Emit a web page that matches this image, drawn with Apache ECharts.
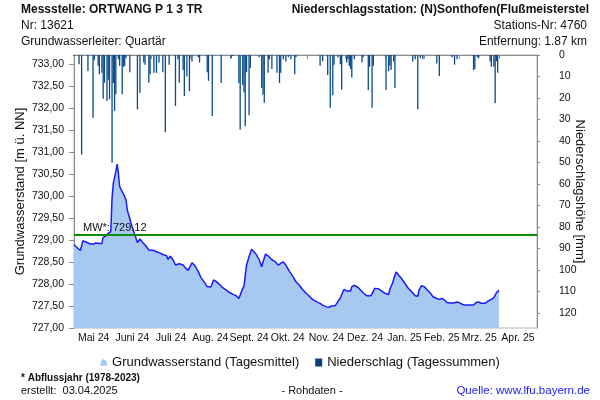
<!DOCTYPE html>
<html><head><meta charset="utf-8">
<script src="https://cdn.jsdelivr.net/npm/echarts@6/dist/echarts.min.js"></script>
<style>html,body{margin:0;padding:0;background:#fff}#c{width:600px;height:400px}</style>
</head><body><div id="c"></div>
<script>
// ---- data ----
const monthLabels = ["Mai 24","Juni 24","Juli 24","Aug. 24","Sept. 24","Okt. 24","Nov. 24","Dez. 24","Jan. 25","Feb. 25","Mrz. 25","Apr. 25"];
const monthStarts = [0,31,61,92,123,153,184,214,245,276,304,335,365]; // days since 2024-05-01
const levelTicks = [727,727.5,728,728.5,729,729.5,730,730.5,731,731.5,732,732.5,733];
const rainTicks = [0,10,20,30,40,50,60,70,80,90,100,110,120];
const meanLevel = 729.12;

const levelDays = [0,3,5,7,9,12,15,17,20,22,23,25,27,29,30,31,33,34,35,36,38,40,41,42,45,48,50,52,54,57,59,63,65,68,70,73,74,76,78,80,83,86,88,90,93,95,98,100,103,105,108,110,112,115,117,120,123,125,128,130,131,133,134,136,138,140,141,143,146,148,149,151,153,156,158,161,163,165,167,170,173,175,178,180,183,186,188,191,194,196,199,201,203,206,208,210,212,213,215,218,219,221,224,227,229,231,234,236,237,240,242,245,248,249,251,253,254,256,258,261,263,266,269,271,272,274,276,278,281,283,286,288,290,292,294,296,299,302,304,306,308,312,315,317,319,321,324,327,329,331,333,335];
const levelValues = [728.89,728.81,728.76,728.98,728.96,728.92,728.90,728.93,728.92,728.92,729.06,729.09,729.15,729.19,729.95,730.29,730.55,730.72,730.51,730.21,730.10,729.98,729.91,729.68,729.38,729.11,728.94,729.02,728.95,728.85,728.77,728.76,728.73,728.70,728.67,728.64,728.56,728.63,728.55,728.43,728.46,728.43,728.36,728.31,728.48,728.43,728.28,728.15,728.03,727.94,727.93,728.09,728.06,727.98,727.92,727.86,727.80,727.77,727.73,727.67,727.69,727.90,727.95,728.43,728.62,728.79,728.81,728.70,728.55,728.39,728.50,728.68,728.64,728.55,728.52,728.43,728.47,728.50,728.43,728.28,728.15,728.05,727.96,727.88,727.79,727.71,727.65,727.60,727.56,727.52,727.48,727.47,727.50,727.51,727.60,727.68,727.83,727.88,727.84,727.84,727.94,727.97,727.92,727.83,727.77,727.73,727.73,727.83,727.90,727.89,727.85,727.79,727.76,727.88,728.01,728.20,728.27,728.20,728.13,728.01,727.92,727.83,727.73,727.72,727.86,727.96,727.94,727.88,727.79,727.71,727.67,727.65,727.67,727.64,727.58,727.57,727.57,727.59,727.57,727.54,727.52,727.52,727.52,727.58,727.59,727.56,727.56,727.62,727.65,727.69,727.80,727.86];

const rainDays = [0,4,6,11,15,16,19,20,22,23,24,26,27,28,30,31,32,33,35,36,38,39,40,41,44,50,52,55,56,59,60,63,65,67,70,72,75,80,82,83,86,87,89,91,93,98,99,105,106,109,116,124,125,130,131,133,134,135,136,138,139,146,148,149,150,153,154,156,160,162,163,165,167,169,171,174,175,194,196,200,202,204,205,208,210,211,215,216,217,218,219,221,227,228,232,233,235,236,246,248,249,250,252,253,267,269,271,273,275,286,288,298,300,302,315,316,318,319,328,329,331,332,333,334];
const rainValues = [0.5,4.3,46.3,7.4,29.2,2.5,5,9,8.3,20.3,12.9,21.4,11.5,20.6,50.1,13,26,18.3,2,5,18.3,5.5,5,1.5,8,25.3,17.6,3.5,4.5,12.9,9,8.3,8.3,3.5,8,35.9,4.5,23.7,2,12.9,7,19.1,10,16.8,3,1,3.5,8,12,28.4,13,1.5,0.5,13,34.6,14,17.3,33.2,8,28,6,1,15.4,18.4,22.2,8.3,2,6.5,8.3,13,8.3,2,3,1,2,9,1,5,3,9.3,24.5,18.7,4.5,1,4.3,16,3.5,2,5,6.5,10.5,2,3.5,1,16.3,5.5,24.5,5,16.3,7.5,5,7,3,15.3,3,2,25.2,1.5,2,4,9.8,1,4.5,2,7,6.5,1,1.5,3,5.5,5.5,22.4,3,8.3];

// ---- chart ----
const FONT = '"Liberation Sans", Arial, sans-serif';
const monthMids = monthStarts.slice(0, -1).map((s, i) => (s + monthStarts[i + 1]) / 2);
const chart = echarts.init(document.getElementById('c'), null, {renderer: 'canvas'});

const txt = (x, y, text, opts) => ({
  type: 'text', x: x, y: y,
  style: Object.assign({text: text, fontFamily: FONT, fontSize: 12, fill: '#111', align: 'left', verticalAlign: 'middle'}, opts || {})
});

chart.setOption({
  animation: false,
  textStyle: {fontFamily: FONT},
  grid: {left: 74, right: 63, top: 55, bottom: 72, show: true, borderColor: '#b4b4b4', borderWidth: 1,
         containLabel: false, outerBoundsMode: 'none'},
  xAxis: {
    type: 'value', min: 0, max: 365,
    splitLine: {show: false},
    axisLine: {show: true, lineStyle: {color: '#8c8c8c'}},
    axisTick: {show: true, length: 4, customValues: monthStarts, lineStyle: {color: '#8c8c8c'}},
    axisLabel: {
      customValues: monthMids, margin: 5, fontSize: 10.5, color: '#111', hideOverlap: false,
      formatter: v => { const i = monthMids.findIndex(m => Math.abs(m - v) < 0.01); return i >= 0 ? monthLabels[i] : ''; }
    }
  },
  yAxis: [{
    type: 'value', min: 727, max: 733.2, position: 'left',
    name: 'Grundwasserstand [m ü. NN]', nameLocation: 'middle', nameGap: 47, nameMoveOverlap: false,
    nameTextStyle: {fontSize: 13, color: '#111'},
    splitLine: {show: false},
    axisLine: {show: true, lineStyle: {color: '#8c8c8c'}},
    axisTick: {show: true, length: 5, customValues: levelTicks, lineStyle: {color: '#8c8c8c'}},
    axisLabel: {customValues: levelTicks, margin: 10, fontSize: 10.5, color: '#111', formatter: v => v.toFixed(2).replace('.', ',')}
  }, {
    type: 'value', min: 0, max: 127, inverse: true, position: 'right',
    name: 'Niederschlagshöhe [mm]', nameLocation: 'middle', nameGap: 36, nameRotate: -90, nameMoveOverlap: false,
    nameTextStyle: {fontSize: 13, color: '#111'},
    splitLine: {show: false},
    axisLine: {show: true, lineStyle: {color: '#8c8c8c'}},
    axisTick: {show: true, length: 3, customValues: rainTicks, lineStyle: {color: '#8c8c8c'}},
    axisLabel: {customValues: rainTicks, margin: 22, fontSize: 10.5, color: '#111', align: 'left'}
  }],
  legend: {
    left: 'center', top: 351, itemWidth: 7, itemHeight: 8, itemGap: 16,
    textStyle: {fontSize: 13, color: '#111', fontFamily: FONT},
    data: [
      {name: 'Grundwasserstand (Tagesmittel)', icon: 'path://M0,10 L1,4 Q5,-2 9,4 L10,10 Z', itemStyle: {color: '#a7c8f0'}},
      {name: 'Niederschlag (Tagessummen)', icon: 'rect', itemStyle: {color: '#0a4078'}}
    ]
  },
  series: [{
    name: 'Grundwasserstand (Tagesmittel)', type: 'line', yAxisIndex: 0,
    data: levelDays.map((d, i) => [d, levelValues[i]]),
    showSymbol: false, symbol: 'none',
    lineStyle: {color: '#1a1aff', width: 1.5},
    itemStyle: {color: '#a7c8f0'},
    areaStyle: {color: '#a7c8f0', opacity: 1, origin: 'start'},
    z: 2,
    markLine: {
      silent: true, symbol: 'none',
      lineStyle: {color: '#0b8a0b', width: 2, type: 'solid'},
      label: {show: true, position: 'insideStartTop', formatter: 'MW*: ' + meanLevel.toFixed(2), color: '#111', fontSize: 11, distance: [9, 1]},
      data: [{yAxis: meanLevel}]
    }
  }, {
    name: 'Niederschlag (Tagessummen)', type: 'bar', yAxisIndex: 1,
    data: rainDays.map((d, i) => [d, rainValues[i]]),
    barWidth: 1.3,
    itemStyle: {color: '#0a4a88'},
    z: 3
  }],
  graphic: [
    txt(21, 10, 'Messstelle: ORTWANG P 1 3 TR', {fontWeight: 'bold'}),
    txt(21, 26, 'Nr: 13621'),
    txt(21, 42, 'Grundwasserleiter: Quartär'),
    txt(589, 10, 'Niederschlagsstation: (N)Sonthofen(Flußmeisterstel', {fontWeight: 'bold', align: 'right'}),
    txt(587, 26, 'Stations-Nr: 4760', {align: 'right'}),
    txt(587, 42, 'Entfernung: 1.87 km', {align: 'right'}),
    txt(21, 378, '* Abflussjahr (1978-2023)', {fontSize: 10, fontWeight: 'bold'}),
    txt(21, 391, 'erstellt:  03.04.2025', {fontSize: 11}),
    txt(312, 391, '- Rohdaten -', {fontSize: 11, align: 'center'}),
    txt(590, 391, 'Quelle: www.lfu.bayern.de', {fontSize: 11.5, align: 'right', fill: '#1a1aff'})
  ]
});
</script>
</body></html>
